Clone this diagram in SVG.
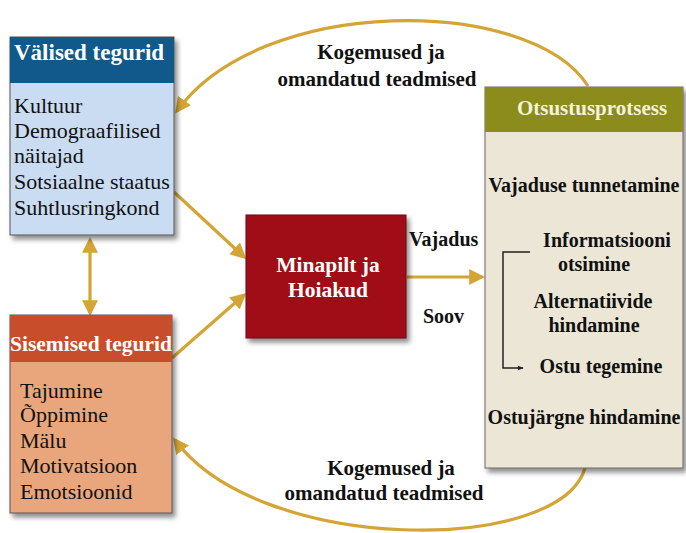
<svg xmlns="http://www.w3.org/2000/svg" width="686" height="533" viewBox="0 0 686 533">
<defs>
<filter id="sh" x="-10%" y="-10%" width="130%" height="130%">
<feDropShadow dx="3" dy="4" stdDeviation="2.5" flood-color="#000" flood-opacity="0.45"/>
</filter>
<marker id="ah" viewBox="0 0 10 10" refX="8" refY="5" markerWidth="5" markerHeight="5" orient="auto-start-reverse" markerUnits="strokeWidth">
<path d="M0,0 L10,5 L0,10 z" fill="#d4a535"/>
</marker>
<marker id="ahk" viewBox="0 0 10 10" refX="9" refY="5" markerWidth="6" markerHeight="6" orient="auto" markerUnits="userSpaceOnUse">
<path d="M0,1 L10,5 L0,9 z" fill="#222"/>
</marker>
</defs>
<style>
text{font-family:"Liberation Serif","Times New Roman",serif;}
.hd{font-weight:bold;font-size:22px;fill:#fff;}
.bd{font-size:22px;fill:#111;}
.bb{font-weight:bold;font-size:20px;fill:#111;}
.kg{font-weight:bold;font-size:21px;fill:#111;}
.cn{fill:none;stroke:#d4a535;stroke-width:3.2;}
</style>
<rect width="686" height="533" fill="#fff"/>
<g id="connectors">
<path class="cn" d="M588,86 C530,-5 260,-5 177,111" marker-end="url(#ah)"/>
<path class="cn" d="M585,468 C560,555 260,555 175,440" marker-end="url(#ah)"/>
<line class="cn" x1="90" y1="240" x2="90" y2="313" marker-start="url(#ah)" marker-end="url(#ah)"/>
<line class="cn" x1="174" y1="192" x2="244" y2="257" marker-end="url(#ah)"/>
<line class="cn" x1="172" y1="358" x2="244" y2="295" marker-end="url(#ah)"/>
<line class="cn" x1="407" y1="277" x2="482" y2="277" marker-end="url(#ah)"/>
</g>
<g id="valised">
<rect x="10" y="37" width="164" height="198" fill="#c9dcf2" stroke="#555" stroke-width="1" filter="url(#sh)"/>
<rect x="10" y="37" width="164" height="46" fill="#11598a"/>
<text class="hd" x="14" y="60" style="font-size:23px">Välised tegurid</text>
<text class="bd" x="14" y="113">Kultuur</text>
<text class="bd" x="14" y="138">Demograafilised</text>
<text class="bd" x="14" y="163">näitajad</text>
<text class="bd" x="14" y="189">Sotsiaalne staatus</text>
<text class="bd" x="14" y="215">Suhtlusringkond</text>
</g>
<g id="sisemised">
<rect x="10" y="315" width="162" height="198" fill="#e9a67c" stroke="#555" stroke-width="1" filter="url(#sh)"/>
<rect x="10" y="315" width="162" height="47" fill="#c84e2b"/>
<text class="hd" x="10" y="351" style="font-size:21.5px">Sisemised tegurid</text>
<text class="bd" x="20" y="398">Tajumine</text>
<text class="bd" x="20" y="422">Õppimine</text>
<text class="bd" x="20" y="448">Mälu</text>
<text class="bd" x="20" y="473">Motivatsioon</text>
<text class="bd" x="20" y="499">Emotsioonid</text>
</g>
<g id="minapilt">
<rect x="246" y="215" width="160" height="123" fill="#a00e16" stroke="#6a0a0e" stroke-width="1" filter="url(#sh)"/>
<text class="hd" x="328" y="272" text-anchor="middle" style="font-size:21.5px">Minapilt ja</text>
<text class="hd" x="328" y="297" text-anchor="middle" style="font-size:21.5px">Hoiakud</text>
</g>
<g id="labels">
<text class="bb" x="409" y="246">Vajadus</text>
<text class="bb" x="423" y="323">Soov</text>
<text class="kg" x="381" y="59" text-anchor="middle">Kogemused ja</text>
<text class="kg" x="377" y="86" text-anchor="middle">omandatud teadmised</text>
<text class="kg" x="391" y="475" text-anchor="middle">Kogemused ja</text>
<text class="kg" x="384" y="500" text-anchor="middle">omandatud teadmised</text>
</g>
<g id="otsustus">
<rect x="485" y="87" width="198" height="381" fill="#ebe6d6" stroke="#666" stroke-width="1" filter="url(#sh)"/>
<rect x="485" y="87" width="198" height="45" fill="#8b8c1c"/>
<text class="hd" x="592" y="115" text-anchor="middle" style="font-size:21px;fill:#f4f2d8">Otsustusprotsess</text>
<text class="bb" x="584" y="192" text-anchor="middle">Vajaduse tunnetamine</text>
<text class="bb" x="607" y="247" text-anchor="middle">Informatsiooni</text>
<text class="bb" x="594" y="271" text-anchor="middle">otsimine</text>
<text class="bb" x="593" y="308" text-anchor="middle">Alternatiivide</text>
<text class="bb" x="594" y="332" text-anchor="middle">hindamine</text>
<text class="bb" x="601" y="373" text-anchor="middle">Ostu tegemine</text>
<text class="bb" x="584" y="424" text-anchor="middle">Ostujärgne hindamine</text>
<path d="M530,252 L503,252 L503,368 L523,368" fill="none" stroke="#222" stroke-width="1.5" marker-end="url(#ahk)"/>
</g>
</svg>
